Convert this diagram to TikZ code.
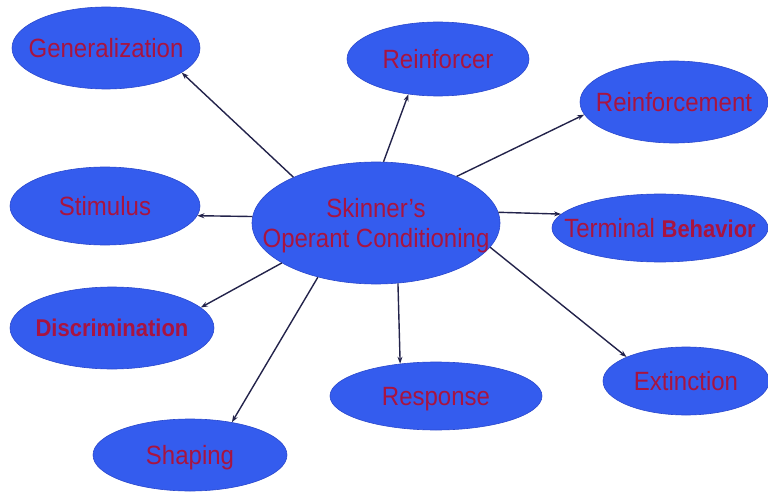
\documentclass[tikz,border=0pt]{standalone}
\usepackage{fontspec}
\setmainfont{Liberation Sans}
\usetikzlibrary{shapes.geometric,arrows.meta}
\definecolor{bubblefill}{RGB}{52,92,238}
\definecolor{bubbleedge}{RGB}{42,72,205}
\definecolor{wordred}{RGB}{168,20,64}
\definecolor{arrowink}{RGB}{35,35,75}
\newcommand{\word}[1]{\makebox[0pt]{\raisebox{0pt}[\height][0pt]{\scalebox{1}[1.1]{#1}}}}
\newcommand{\twoword}[1]{\makebox[0pt]{\raisebox{0pt}[\height][\dimexpr\depth-7pt\relax]{\scalebox{1}[1.1]{#1}}}}
\newcommand{\boldword}[1]{{\fontsize{22}{27}\selectfont\bfseries #1}}

\begin{document}
\begin{tikzpicture}[x=1pt,y=-1pt,
  bubble/.style={ellipse,fill=bubblefill,draw=bubbleedge,line width=0.6pt,inner sep=0pt,
    text=wordred,font=\fontsize{24}{27}\selectfont},
  link/.style={arrowink,line width=1.4pt,-{Stealth[length=7pt,width=5pt]}}]
%\draw[step=50,gray,very thin] (0,0) grid (768,492); %bckgr grid
\useasboundingbox (0,0) rectangle (768,492);

\node[bubble,minimum width=248pt,minimum height=122pt] (skinner) at (376,223)
  {\twoword{\begin{tabular}{@{}c@{}}Skinner’s\\Operant Conditioning\end{tabular}}};

\node[bubble,minimum width=188pt,minimum height=82pt] (gen) at (106,48) {\word{Generalization}};
\node[bubble,minimum width=182pt,minimum height=74pt] (reinfr) at (438,59) {\word{Reinforcer}};
\node[bubble,minimum width=188pt,minimum height=82pt] (reinfm) at (674,102) {\word{Reinforcement}};
\node[bubble,minimum width=190pt,minimum height=78pt] (stim) at (105,206) {\word{Stimulus}};
\node[bubble,minimum width=216pt,minimum height=68pt] (term) at (660,228) {\word{Terminal \boldword{Behavior}}};
\node[bubble,minimum width=204pt,minimum height=82pt] (discr) at (112,328) {\word{\boldword{Discrimination}}};
\node[bubble,minimum width=212pt,minimum height=68pt] (resp) at (436,396) {\word{Response}};
\node[bubble,minimum width=166pt,minimum height=68pt] (ext) at (686,381) {\word{Extinction}};
\node[bubble,minimum width=194pt,minimum height=72pt] (shap) at (190,455) {\word{Shaping}};

\draw[link] (skinner.151) -- (gen.-18);
\draw[link] (skinner.83) -- (reinfr.-130);
\draw[link] (skinner.30) -- (reinfm.-172);
\draw[link] (skinner.177) -- (stim.-6);
\draw[link] (skinner.5) -- (term.172);
\draw[link] (skinner.-157) -- (discr.13);
\draw[link] (skinner.-137) -- (shap.38);
\draw[link] (skinner.-70) -- (resp.138);
\draw[link] (skinner.-12) -- (ext.158);

\end{tikzpicture}
\end{document}
